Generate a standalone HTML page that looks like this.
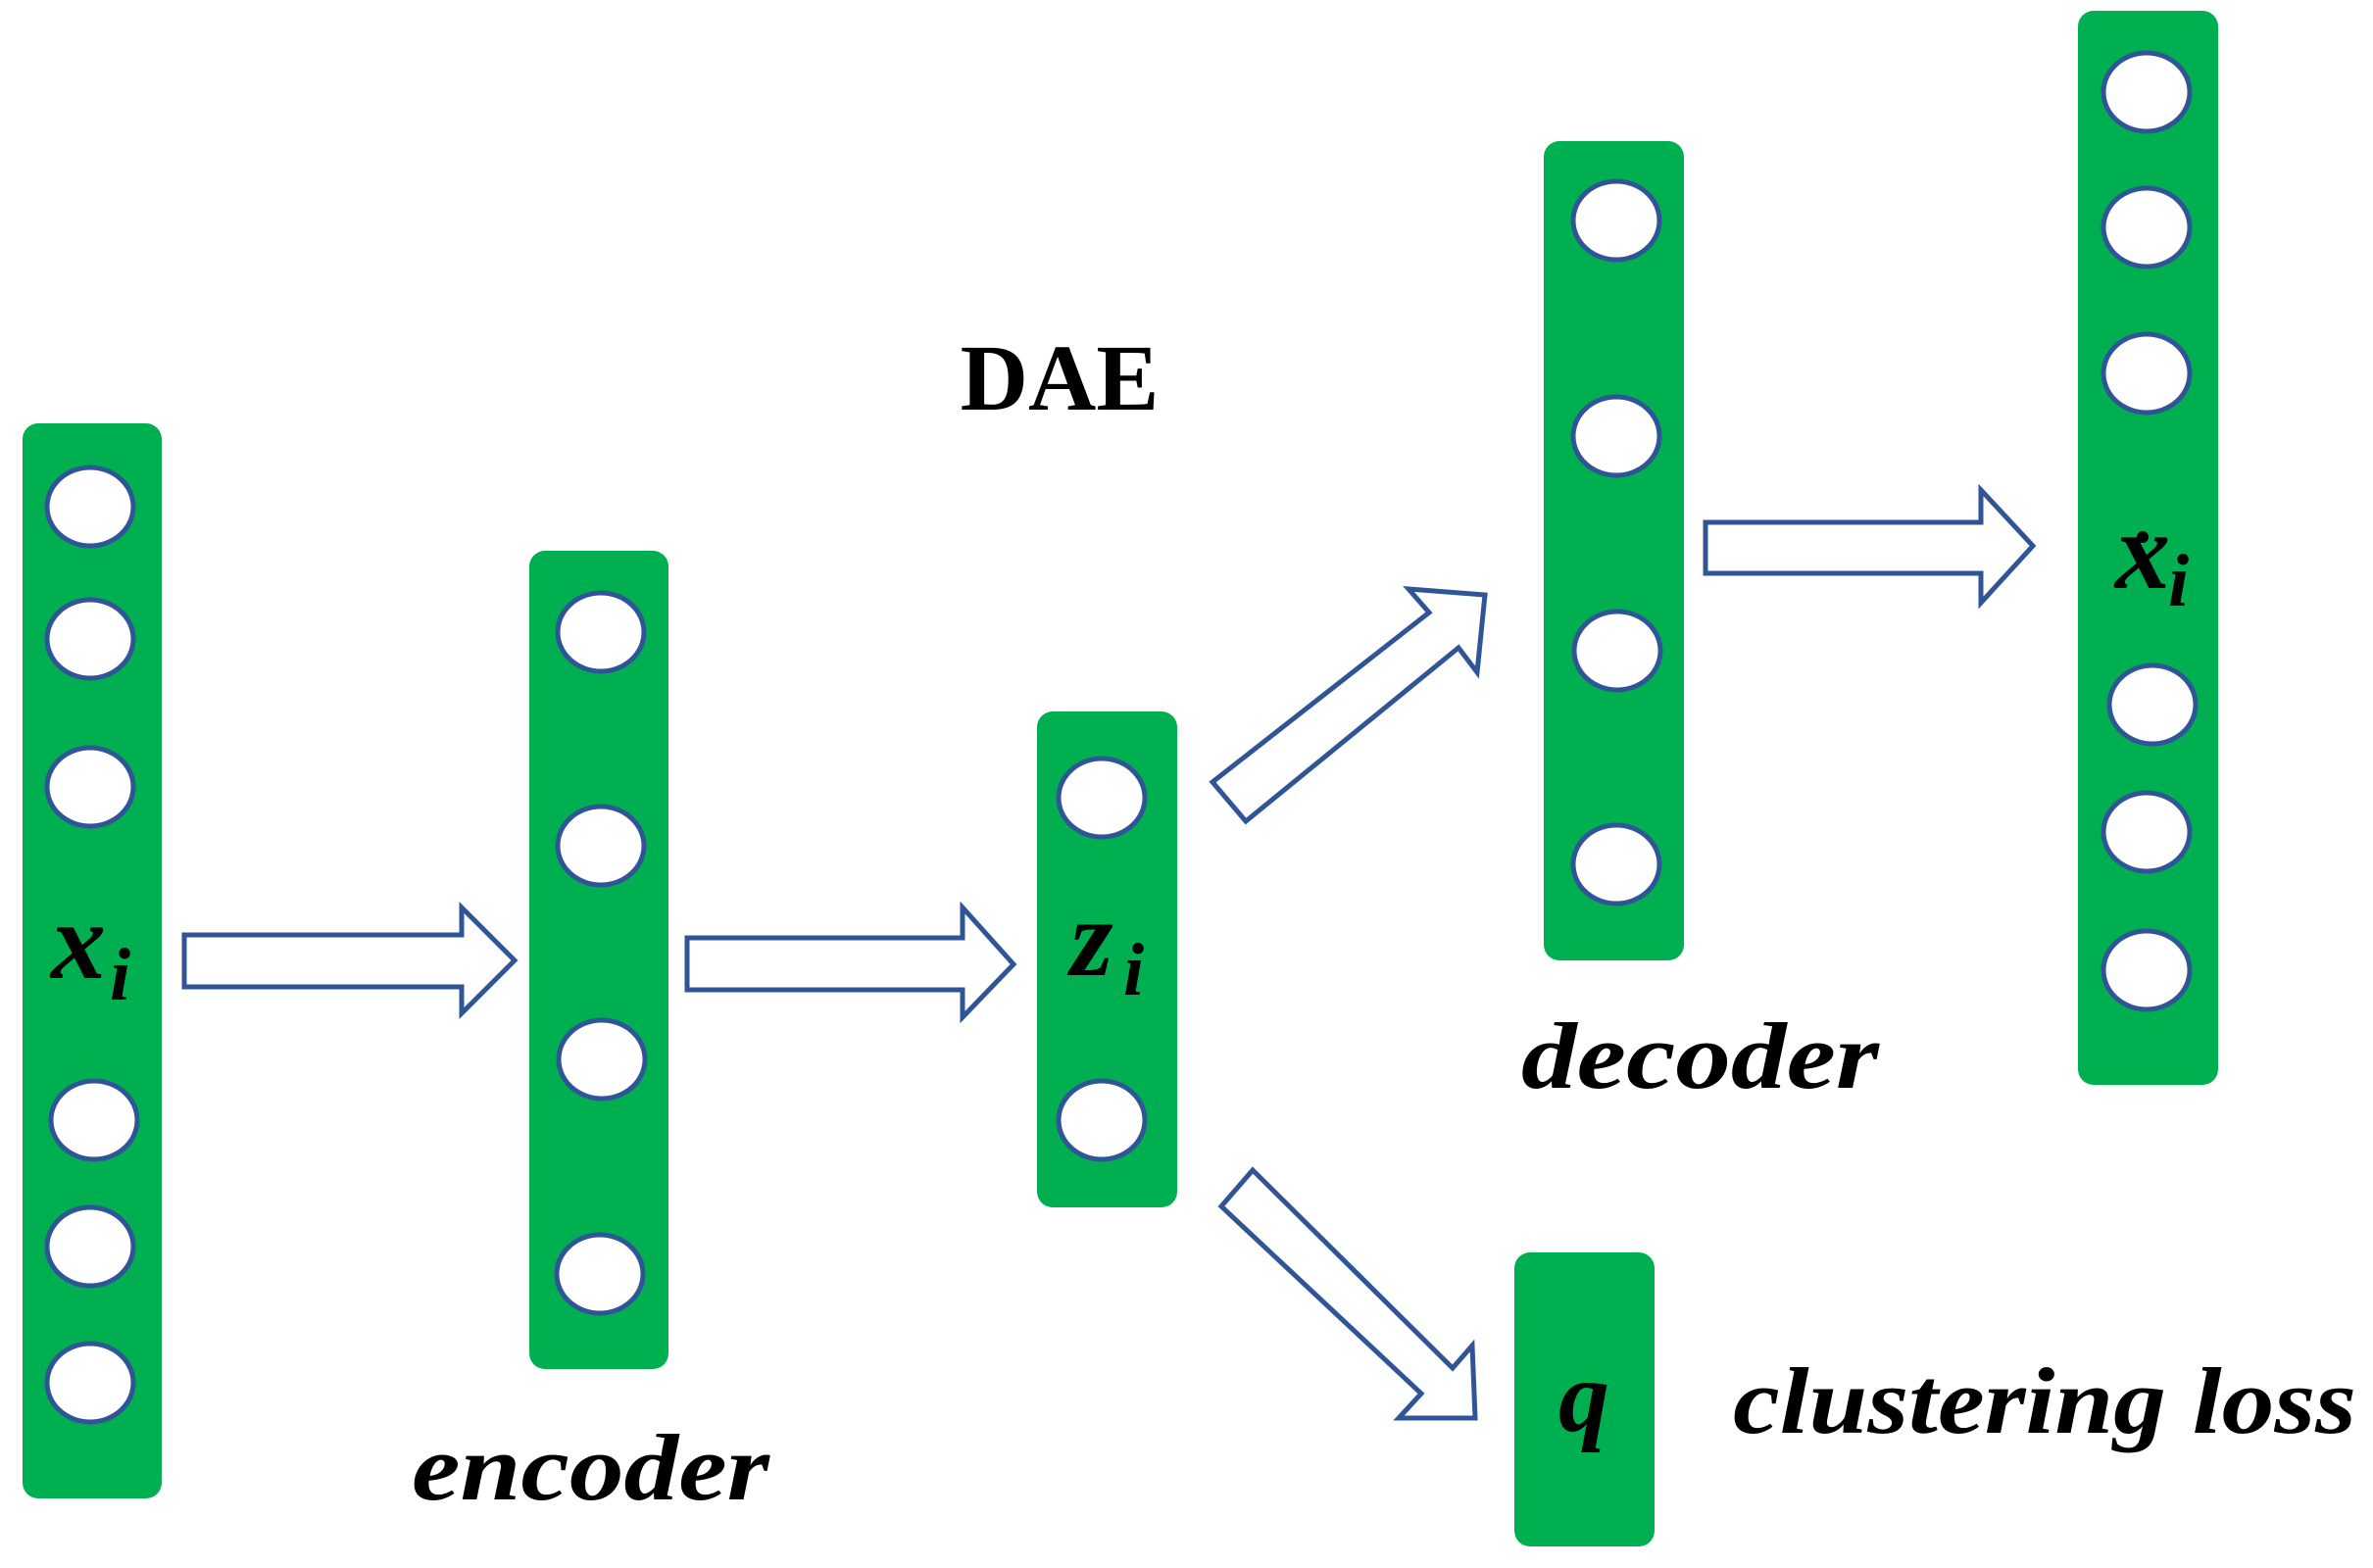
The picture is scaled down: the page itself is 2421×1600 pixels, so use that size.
<!DOCTYPE html>
<html><head><meta charset="utf-8"><style>
html,body{margin:0;padding:0;background:#fff;}
svg{display:block;}
text{font-family:"Liberation Serif",serif;font-weight:bold;fill:#000;}
</style></head><body>
<svg width="2421" height="1600" viewBox="0 0 2421 1600" xmlns="http://www.w3.org/2000/svg">
<g fill="#00B050">
<rect x="23" y="432" width="142" height="1097" rx="16"/>
<rect x="540" y="562" width="142" height="835" rx="16"/>
<rect x="1058" y="726" width="143" height="506" rx="16"/>
<rect x="1575" y="144" width="143" height="836" rx="16"/>
<rect x="2120" y="11" width="143" height="1096" rx="16"/>
<rect x="1545" y="1278" width="143" height="300" rx="16"/>
</g>
<g fill="#fff" stroke="#2F5597" stroke-width="5">
<ellipse cx="92" cy="517" rx="44" ry="40"/>
<ellipse cx="92" cy="652" rx="44" ry="40"/>
<ellipse cx="92" cy="803" rx="44" ry="40"/>
<ellipse cx="96" cy="1143" rx="44" ry="40"/>
<ellipse cx="92" cy="1272" rx="44" ry="40"/>
<ellipse cx="92" cy="1411" rx="44" ry="40"/>
<ellipse cx="613" cy="645" rx="44" ry="40"/>
<ellipse cx="613" cy="863" rx="44" ry="40"/>
<ellipse cx="614" cy="1081" rx="44" ry="40"/>
<ellipse cx="612" cy="1300" rx="44" ry="40"/>
<ellipse cx="1124" cy="814" rx="44" ry="40"/>
<ellipse cx="1124" cy="1143" rx="44" ry="40"/>
<ellipse cx="1649" cy="225" rx="44" ry="40"/>
<ellipse cx="1649" cy="445" rx="44" ry="40"/>
<ellipse cx="1650" cy="664" rx="44" ry="40"/>
<ellipse cx="1649" cy="882" rx="44" ry="40"/>
<ellipse cx="2190" cy="94" rx="44" ry="40"/>
<ellipse cx="2190" cy="232" rx="44" ry="40"/>
<ellipse cx="2190" cy="381" rx="44" ry="40"/>
<ellipse cx="2196" cy="719" rx="44" ry="40"/>
<ellipse cx="2190" cy="849" rx="44" ry="40"/>
<ellipse cx="2190" cy="990" rx="44" ry="40"/>
</g>
<g fill="#fff" stroke="#2F5597" stroke-width="5" stroke-linejoin="miter">
<polygon points="188,954 471,954 471,926 525,980 471,1034 471,1007 188,1007"/>
<polygon points="701,957 982,957 982,926 1034,984 982,1038 982,1010 701,1010"/>
<polygon points="1740,533 2021,533 2021,500 2074,557 2021,615 2021,585 1740,585"/>
<polygon points="1237,798 1458,625 1437,601 1515,607 1507,686 1488,661 1271,838"/>
<polygon points="1278,1194 1482,1396 1502,1373 1505,1447 1427,1447 1450,1422 1246,1231"/>
</g>
<text x="1081" y="418" font-size="96" text-anchor="middle">DAE</text>
<text x="52" y="998" font-size="112" font-style="italic">x</text>
<text x="112" y="1020" font-size="76" font-style="italic">i</text>
<text x="1092" y="995" font-size="112" font-style="italic">z</text>
<text x="1146" y="1015" font-size="76" font-style="italic">i</text>
<text x="2158" y="600" font-size="112" font-style="italic">x</text>
<circle cx="2186" cy="548" r="6" fill="#000"/>
<text x="2212" y="618" font-size="76" font-style="italic">i</text>
<text x="1590" y="1460" font-size="104" font-style="italic">q</text>
<text x="420" y="1530" font-size="96" font-style="italic" textLength="365" lengthAdjust="spacingAndGlyphs">encoder</text>
<text x="1552" y="1110" font-size="96" font-style="italic" textLength="365" lengthAdjust="spacingAndGlyphs">decoder</text>
<text x="1768" y="1462" font-size="96" font-style="italic" textLength="636" lengthAdjust="spacingAndGlyphs">clustering loss</text>
</svg>
</body></html>
